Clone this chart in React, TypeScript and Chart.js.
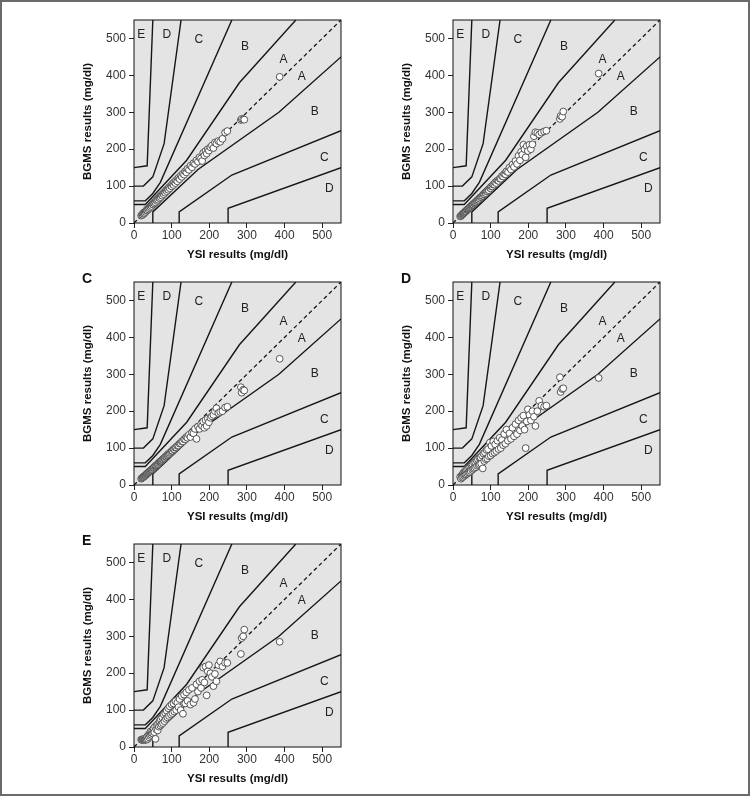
import React, { useEffect, useRef } from 'react';
import { Chart, registerables } from 'chart.js';

Chart.register(...registerables);

// Reference (YSI) glucose values, shared by all five meters (mg/dl)
const YSI = [
  19, 21, 23, 24, 26, 27, 28, 30, 31, 33,
  34, 35, 37, 38, 40, 41, 43, 44, 46, 47,
  49, 51, 52, 54, 56, 57, 59, 61, 63, 64,
  66, 68, 70, 71, 73, 75, 77, 79, 81, 83,
  85, 87, 89, 91, 93, 95, 98, 100, 102, 105,
  107, 110, 112, 115, 118, 121, 124, 127, 130, 133,
  136, 139, 142, 146, 150, 154, 158, 162, 166, 170,
  174, 178, 181, 184, 187, 190, 193, 196, 199, 203,
  207, 211, 215, 219, 224, 229, 235, 242, 248, 284,
  286, 290, 293, 387,
];

// BGMS results per panel (mg/dl)
const BGMS_A = [
  20, 22, 22, 26, 25, 29, 27, 31, 30, 34,
  36, 34, 39, 37, 42, 40, 45, 43, 48, 46,
  51, 50, 55, 53, 58, 56, 62, 60, 66, 63,
  69, 67, 73, 70, 76, 74, 80, 78, 84, 82,
  89, 86, 92, 90, 97, 94, 101, 99, 106, 103,
  111, 108, 116, 113, 122, 119, 128, 125, 134, 131,
  140, 137, 147, 144, 155, 151, 162, 160, 170, 166,
  178, 175, 168, 190, 183, 195, 188, 200, 196, 205,
  210, 203, 218, 215, 222, 220, 228, 245, 249, 279,
  282, 281, 280, 396,
];
const BGMS_B = [
  18, 19, 21, 23, 24, 25, 27, 28, 29, 31,
  33, 32, 35, 36, 37, 39, 40, 42, 43, 45,
  46, 48, 50, 50, 53, 54, 56, 57, 60, 60,
  63, 63, 67, 66, 70, 70, 73, 74, 78, 78,
  82, 81, 86, 86, 90, 89, 95, 94, 99, 99,
  104, 104, 110, 108, 115, 114, 120, 120, 127, 126,
  133, 132, 140, 138, 150, 145, 158, 152, 168, 160,
  182, 170, 193, 185, 212, 200, 178, 208, 195, 212,
  200, 213, 235, 246, 244, 240, 245, 248, 250, 282,
  290, 288, 302, 405,
];
const BGMS_C = [
  17, 19, 20, 21, 22, 24, 24, 26, 27, 29,
  30, 31, 32, 34, 35, 37, 38, 39, 41, 42,
  43, 46, 46, 48, 50, 52, 53, 55, 57, 57,
  60, 62, 63, 65, 66, 68, 70, 72, 73, 76,
  77, 80, 81, 84, 84, 87, 89, 92, 93, 97,
  97, 101, 102, 106, 107, 112, 113, 118, 118, 124,
  124, 130, 128, 136, 130, 142, 140, 152, 125, 158,
  152, 165, 160, 172, 155, 176, 160, 180, 170, 182,
  186, 190, 200, 208, 195, 198, 200, 210, 212, 265,
  250, 258, 256, 342,
];
const BGMS_D = [
  22, 17, 26, 20, 30, 22, 33, 25, 36, 27,
  38, 29, 42, 31, 45, 34, 48, 35, 50, 38,
  54, 41, 56, 44, 60, 46, 62, 48, 66, 52,
  70, 54, 74, 56, 75, 58, 80, 45, 85, 65,
  88, 70, 95, 72, 97, 78, 115, 80, 106, 85,
  118, 88, 110, 92, 120, 97, 128, 100, 122, 108,
  138, 112, 150, 120, 140, 125, 155, 132, 165, 138,
  175, 148, 182, 160, 188, 150, 100, 172, 205, 190,
  175, 200, 185, 160, 200, 228, 215, 212, 215, 292,
  252, 260, 262, 290,
];
const BGMS_E = [
  20, 19, 21, 20, 20, 22, 19, 21, 20, 24,
  20, 28, 22, 32, 26, 35, 30, 42, 33, 38,
  45, 36, 50, 40, 55, 22, 48, 60, 45, 62,
  55, 70, 58, 75, 62, 80, 65, 88, 70, 92,
  76, 98, 80, 105, 84, 110, 88, 115, 92, 118,
  96, 124, 100, 120, 108, 130, 100, 138, 90, 142,
  118, 148, 125, 155, 115, 160, 120, 130, 170, 150,
  178, 160, 182, 215, 175, 218, 140, 205, 222, 200,
  190, 165, 198, 178, 222, 232, 218, 228, 228, 252,
  295, 300, 318, 285,
];

const AXIS_TICKS = [0, 100, 200, 300, 400, 500];
const AXIS_MIN = 0;
const AXIS_MAX = 550;

// Parkes (type 1) error grid zone boundaries, [YSI, BGMS]
const IDENTITY_LINE = [[0, 0], [550, 550]];
const ZONE_A_UPPER = [[0, 50], [30, 50], [140, 170], [280, 380], [430, 550]];
const ZONE_A_LOWER = [[50, 0], [50, 30], [170, 145], [385, 300], [550, 450]];
const ZONE_B_UPPER = [[0, 60], [30, 60], [50, 80], [70, 110], [260, 550]];
const ZONE_B_LOWER = [[120, 0], [120, 30], [260, 130], [550, 250]];
const ZONE_C_UPPER = [[0, 100], [25, 100], [50, 125], [80, 215], [125, 550]];
const ZONE_C_LOWER = [[250, 0], [250, 40], [550, 150]];
const ZONE_D_UPPER = [[0, 150], [35, 155], [50, 550]];
const ZONE_LINES = [ZONE_A_UPPER, ZONE_A_LOWER, ZONE_B_UPPER, ZONE_B_LOWER, ZONE_C_UPPER, ZONE_C_LOWER, ZONE_D_UPPER];

const ZONE_LABEL_TEXT = ['E', 'D', 'C', 'B', 'A', 'A', 'B', 'C', 'D'];
const ZONE_LABEL_X = [19, 87, 172, 295, 397, 446, 480, 506, 519];
const ZONE_LABEL_Y = [509, 509, 496, 478, 443, 396, 301, 177, 93];

const FONT = '"Liberation Sans", Arial, Helvetica, sans-serif';

const framePlugin = {
  id: 'frame',
  beforeDraw(chart: any) {
    const { ctx, chartArea } = chart;
    ctx.save();
    ctx.fillStyle = '#e4e4e4';
    ctx.fillRect(chartArea.left, chartArea.top, chartArea.right - chartArea.left, chartArea.bottom - chartArea.top);
    ctx.restore();
  },
  beforeDatasetsDraw(chart: any) {
    const { ctx, scales } = chart;
    ctx.save();
    ctx.fillStyle = '#222';
    ctx.font = `12px ${FONT}`;
    ctx.textAlign = 'center';
    ctx.textBaseline = 'middle';
    ZONE_LABEL_TEXT.forEach((t, i) => {
      ctx.fillText(t, scales.x.getPixelForValue(ZONE_LABEL_X[i]), scales.y.getPixelForValue(ZONE_LABEL_Y[i]));
    });
    ctx.restore();
  },
  afterDraw(chart: any) {
    const { ctx, chartArea } = chart;
    ctx.save();
    ctx.strokeStyle = '#111';
    ctx.lineWidth = 1;
    ctx.strokeRect(chartArea.left, chartArea.top, chartArea.right - chartArea.left, chartArea.bottom - chartArea.top);
    ctx.restore();
  },
};

const CW = 360;
const CH = 262;

function Panel({ bgms, letter, left, top }: { bgms: number[]; letter?: string; left: number; top: number }) {
  const ref = useRef<HTMLCanvasElement>(null);
  useEffect(() => {
    const toPts = (arr: number[][]) => arr.map(([x, y]) => ({ x, y }));
    const lineDs = (pts: number[][], dash: number[] | undefined, order: number) => ({
      type: 'line' as const,
      data: toPts(pts),
      borderColor: '#161616',
      borderWidth: dash ? 1.3 : 1.4,
      borderDash: dash || [],
      pointRadius: 0,
      fill: false,
      tension: 0,
      order,
    });
    const axis = (title: string, isX: boolean) => ({
      type: 'linear' as const,
      min: AXIS_MIN,
      max: AXIS_MAX,
      afterBuildTicks: (s: any) => {
        s.ticks = AXIS_TICKS.map((v) => ({ value: v }));
      },
      afterFit: (s: any) => {
        if (isX) s.height = 39;
        else s.width = 53;
      },
      grid: { drawOnChartArea: false, drawTicks: true, tickLength: 5, color: '#222', lineWidth: 1 },
      border: { display: false },
      ticks: { color: '#333', font: { family: FONT, size: 12 }, padding: isX ? 0 : 3, maxRotation: 0, autoSkip: false },
      title: { display: true, text: title, color: '#111', font: { family: FONT, size: 11.5, weight: 'bold' as const }, padding: 0 },
    });
    const chart = new Chart(ref.current as HTMLCanvasElement, {
      type: 'scatter',
      data: {
        datasets: [
          {
            type: 'scatter',
            data: YSI.map((x, i) => ({ x, y: bgms[i] })),
            pointRadius: 3.4,
            pointBackgroundColor: '#ffffff',
            pointBorderColor: '#444',
            pointBorderWidth: 0.9,
            order: 0,
          } as any,
          lineDs(IDENTITY_LINE, [4, 3], 1),
          ...ZONE_LINES.map((z) => lineDs(z, undefined, 2)),
        ],
      },
      options: {
        responsive: false,
        animation: false,
        devicePixelRatio: 1,
        layout: { padding: { left: 81, top: 20, right: 19, bottom: 0 } },
        plugins: { legend: { display: false }, tooltip: { enabled: false } },
        scales: {
          x: axis('YSI results (mg/dl)', true),
          y: axis('BGMS results (mg/dl)', false),
        } as any,
      },
      plugins: [framePlugin],
    });
    return () => chart.destroy();
  }, [bgms]);
  return (
    <>
      <canvas
        ref={ref}
        width={CW}
        height={CH}
        style={{ position: 'absolute', left, top, width: CW, height: CH }}
      />
      {letter ? (
        <div
          style={{
            position: 'absolute',
            left: left + 82,
            top: top + 9,
            font: `bold 14px ${FONT}`,
            lineHeight: '14px',
            color: '#111',
          }}
        >
          {letter}
        </div>
      ) : null}
    </>
  );
}

export default function App() {
  return (
    <div
      style={{
        position: 'absolute',
        left: 0,
        top: 0,
        width: 750,
        height: 796,
        boxSizing: 'border-box',
        border: '2px solid #6a6a6a',
        background: '#fff',
        overflow: 'hidden',
      }}
    >
      <div style={{ position: 'absolute', left: -2, top: -2 }}>
        <Panel bgms={BGMS_A} left={0} top={0} />
        <Panel bgms={BGMS_B} left={319} top={0} />
        <Panel bgms={BGMS_C} letter="C" left={0} top={262} />
        <Panel bgms={BGMS_D} letter="D" left={319} top={262} />
        <Panel bgms={BGMS_E} letter="E" left={0} top={524} />
      </div>
    </div>
  );
}
